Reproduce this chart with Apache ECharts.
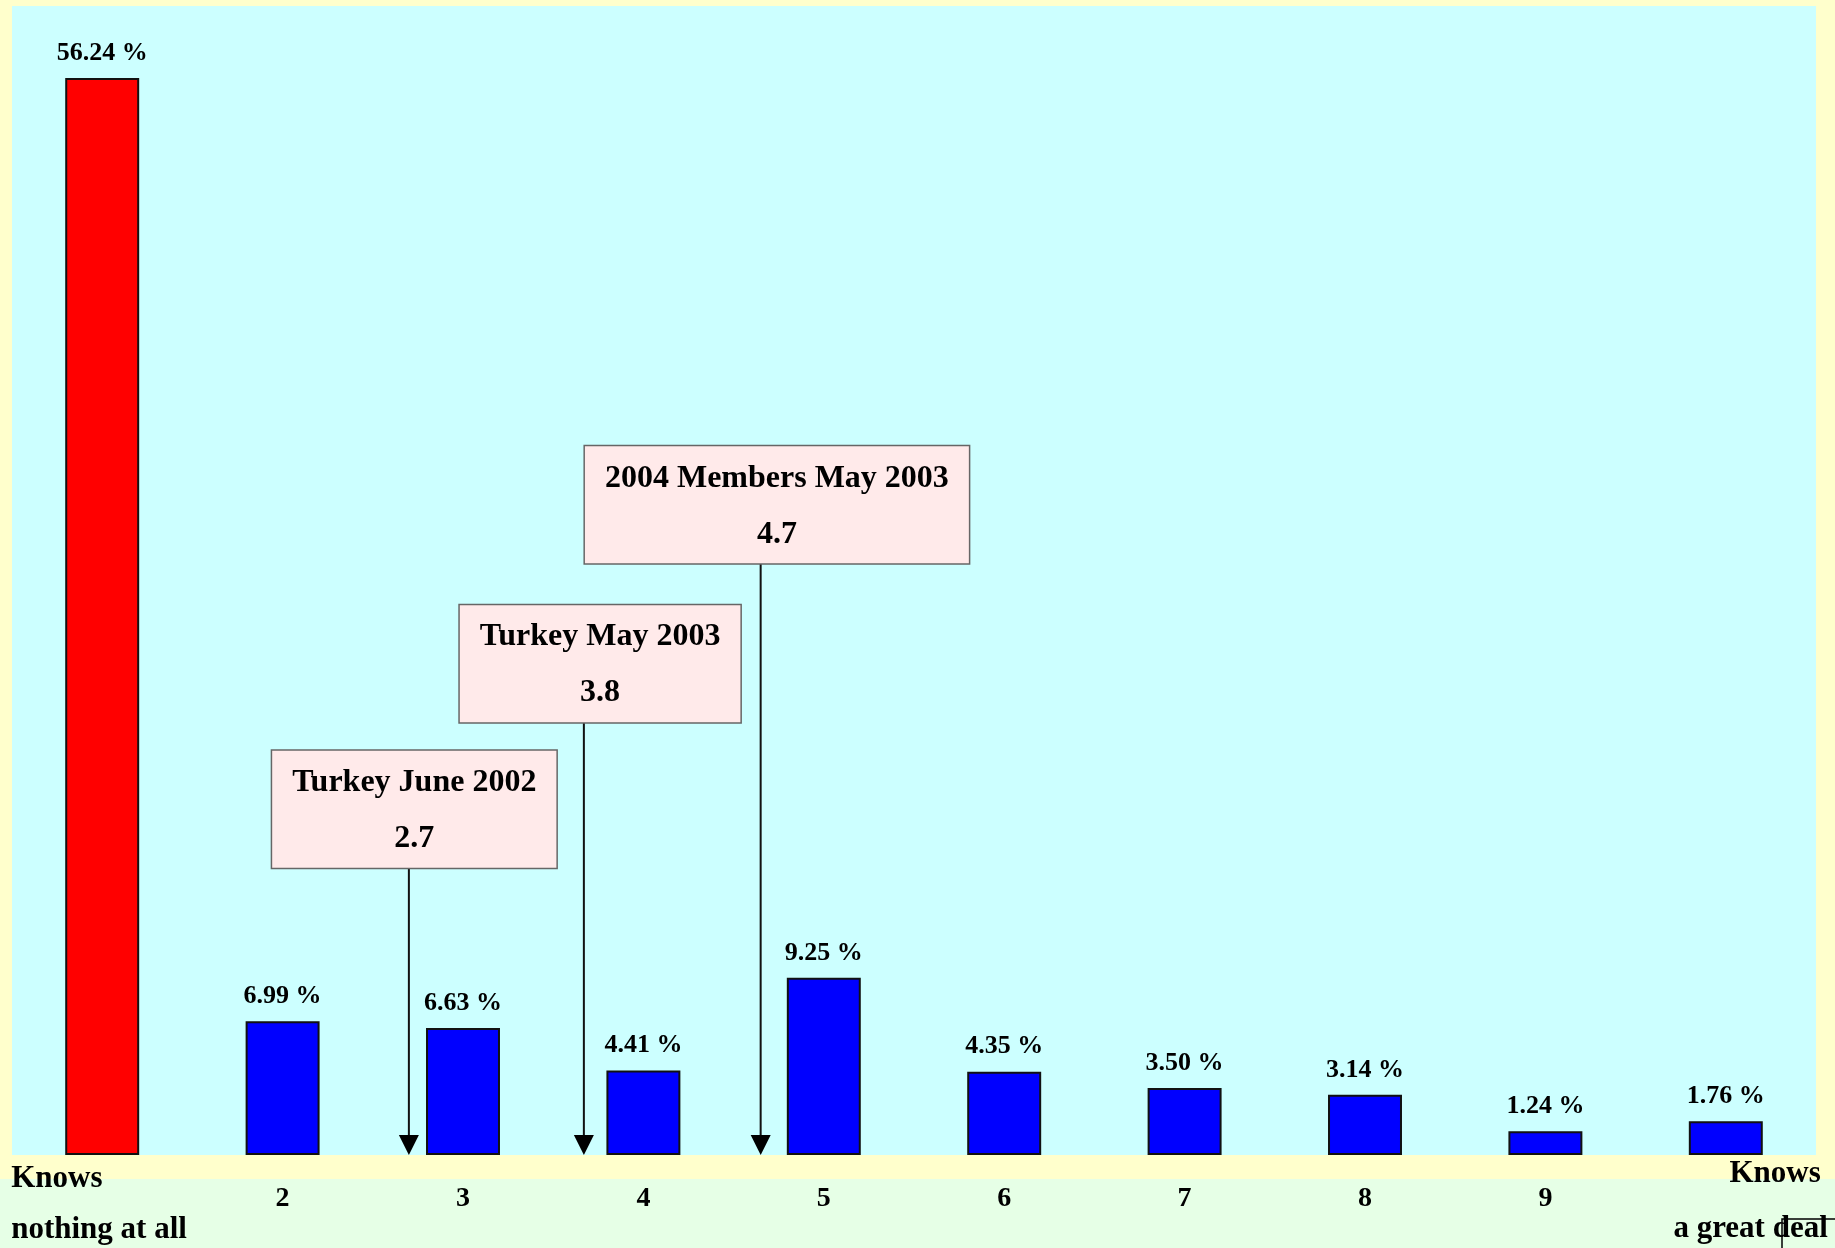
<!DOCTYPE html>
<html>
<head>
<meta charset="utf-8">
<script src="https://cdn.jsdelivr.net/npm/echarts@6/dist/echarts.min.js"></script>
<style>
  html, body { margin: 0; padding: 0; background: #ffffcc; }
  #main { width: 1835px; height: 1248px; }
</style>
</head>
<body>
<div id="main"></div>
<script>
// knowledge scale 1..10
const categories = ["Knows\nnothing at all", "2", "3", "4", "5", "6", "7", "8", "9", "Knows\na great deal"];
const shares = [56.24, 6.99, 6.63, 4.41, 9.25, 4.35, 3.50, 3.14, 1.24, 1.76];

// average scores marked on the scale
const annoNames = ["Turkey June 2002", "Turkey May 2003", "2004 Members May 2003"];
const annoValues = [2.7, 3.8, 4.7];
const annoArrowAt = [2.7, 3.67, 4.65]; // where the arrows are drawn in the original

const serif = '"Liberation Serif", "Times New Roman", serif';

// layout of the annotation boxes: centre on the scale, bottom edge in % units
const boxCenters = [2.73, 3.76, 4.74];
const boxLevels = [15.0, 22.6, 30.9];

var chartDom = document.getElementById("main");
var myChart = echarts.init(chartDom);
var option;
option = {
  backgroundColor: "#ffffcc",
  animation: false,
  graphic: [
    {
      type: "rect",
      z: -1,
      shape: { x: 0, y: 1179, width: 1835, height: 69 },
      style: { fill: "#e6ffe6" },
    },
    {
      type: "polyline",
      z: 10,
      shape: { points: [[1782, 1248], [1782, 1219], [1835, 1219]] },
      style: { stroke: "#000", lineWidth: 1.5, fill: null },
    },
  ],
  grid: {
    left: 12,
    right: 19,
    top: 6,
    bottom: 93,
    show: true,
    backgroundColor: "#ccffff",
    borderWidth: 0,
  },
  xAxis: [
    {
      type: "category",
      data: categories,
      axisLine: { show: false },
      axisTick: { show: false },
      axisLabel: {
        interval: 0,
        margin: 44,
        verticalAlign: "middle",
        color: "#000",
        fontFamily: serif,
        fontWeight: "bold",
        fontSize: 28,
        formatter: function (value, index) {
          if (index === 0) {
            const p = value.split("\n");
            return "{l1|" + p[0] + "}\n{l2|" + p[1] + "}";
          }
          if (index === categories.length - 1) {
            const p = value.split("\n");
            return "{r1|" + p[0] + "}\n{r2|" + p[1] + "}";
          }
          return value;
        },
        rich: {
          l1: { width: 182, align: "left", fontSize: 31, lineHeight: 57, padding: [17, 0, 0, 0], fontWeight: "bold", fontFamily: serif, color: "#000" },
          l2: { width: 182, align: "left", fontSize: 31, lineHeight: 57, padding: [5, 0, 0, 0], fontWeight: "bold", fontFamily: serif, color: "#000" },
          r1: { width: 172, align: "right", fontSize: 31, lineHeight: 57, padding: [6, 7, 0, 0], fontWeight: "bold", fontFamily: serif, color: "#000" },
          r2: { width: 204, align: "right", fontSize: 31, lineHeight: 57, padding: [3, 0, 0, 0], fontWeight: "bold", fontFamily: serif, color: "#000" },
        },
      },
    },
    {
      type: "value",
      min: 0.5,
      max: 10.5,
      show: false,
    },
  ],
  yAxis: {
    type: "value",
    min: 0,
    max: 60,
    show: false,
  },
  series: [
    {
      type: "bar",
      data: shares,
      barWidth: "41%",
      itemStyle: {
        color: function (p) {
          return p.dataIndex === 0 ? "#ff0000" : "#0000ff";
        },
        borderColor: "#111",
        borderWidth: 2,
      },
      label: {
        show: true,
        position: "top",
        distance: 12,
        color: "#000",
        fontFamily: serif,
        fontWeight: "bold",
        fontSize: 26,
        formatter: function (p) {
          return p.value.toFixed(2) + " %";
        },
      },
    },
    {
      type: "custom",
      xAxisIndex: 1,
      yAxisIndex: 0,
      clip: false,
      z: 5,
      data: annoNames.map(function (n, i) {
        return [boxCenters[i], annoArrowAt[i], boxLevels[i], i];
      }),
      renderItem: function (params, api) {
        const i = api.value(3);
        const box = api.coord([api.value(0), api.value(2)]);
        const top = api.coord([api.value(1), api.value(2)]);
        const tip = api.coord([api.value(1), 0]);
        return {
          type: "group",
          children: [
            {
              type: "line",
              shape: { x1: tip[0], y1: top[1], x2: tip[0], y2: tip[1] - 19 },
              style: { stroke: "#111", lineWidth: 2 },
            },
            {
              type: "polygon",
              shape: { points: [[tip[0] - 10, tip[1] - 20], [tip[0] + 10, tip[1] - 20], [tip[0], tip[1]]] },
              style: { fill: "#000" },
            },
            {
              type: "text",
              x: box[0],
              y: box[1],
              style: {
                text: annoNames[i] + "\n" + annoValues[i].toFixed(1),
                align: "center",
                verticalAlign: "bottom",
                fontFamily: serif,
                fontWeight: "bold",
                fontSize: 32,
                lineHeight: 56,
                fill: "#000",
                backgroundColor: "#ffeaea",
                borderColor: "#666",
                borderWidth: 1.5,
                padding: [4, 20, 1, 20],
              },
            },
          ],
        };
      },
    },
  ],
};
myChart.setOption(option);
</script>
</body>
</html>
